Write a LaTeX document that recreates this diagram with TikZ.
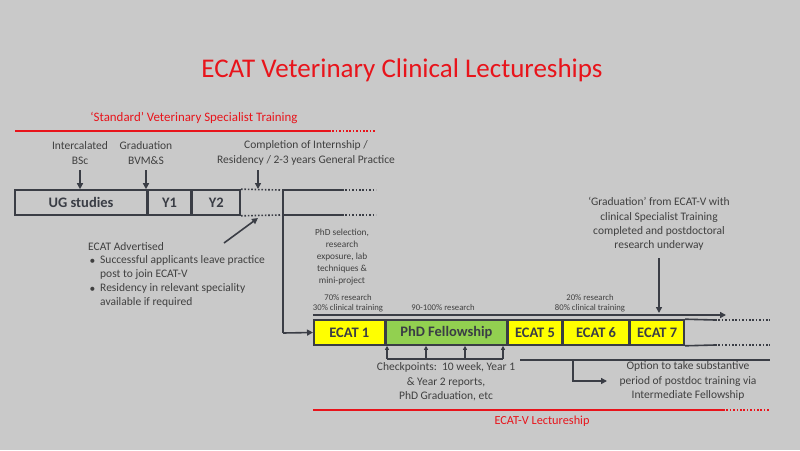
\documentclass[tikz,border=0pt]{standalone}
\usepackage{fontspec}
\setmainfont{Carlito}
\usetikzlibrary{arrows.meta}
\definecolor{bg}{HTML}{C9C9C9}
\definecolor{ln}{HTML}{3A3D45}
\definecolor{tx}{HTML}{404040}
\definecolor{rd}{HTML}{E8141B}
\definecolor{yl}{HTML}{FFFF00}
\definecolor{gr}{HTML}{92D050}
\tikzset{
  lbl/.style={text=tx,font=\fontsize{11.5}{14.3}\selectfont,align=center,inner sep=0pt},
  sml/.style={text=tx,font=\fontsize{9.3}{12.2}\selectfont,align=center,inner sep=0pt},
  pct/.style={text=tx,font=\fontsize{8.7}{10.3}\selectfont,align=center,inner sep=0pt},
  boxt/.style={draw=ln,line width=1.6pt,minimum height=25pt,inner sep=0pt,text=ln,font=\fontsize{14.5}{16}\selectfont\bfseries},
  ecat/.style={boxt,fill=yl},
  ln/.style={draw=ln,line width=1.6pt},
  dots/.style={draw=ln,line width=1.6pt,dash pattern=on 1.6pt off 1.8pt},
  rline/.style={draw=rd,line width=1.6pt},
  rdots/.style={draw=rd,line width=1.6pt,dash pattern=on 1.6pt off 1.8pt},
  arr/.style={ln,-{Triangle[length=6pt,width=6pt]}},
  sarr/.style={draw=ln,line width=1.2pt,-{Triangle[length=4pt,width=4pt]}},
}
\begin{document}
\begin{tikzpicture}[x=1pt,y=-1pt]
\fill[bg] (0,0) rectangle (800,450);
\useasboundingbox (0,0) rectangle (800,450);
% title
\node[text=rd,font=\fontsize{27}{30}\selectfont,inner sep=0pt] (title) at (402,70) {ECAT Veterinary Clinical Lectureships};
% standard training
\node[text=rd,font=\fontsize{12.9}{15}\selectfont,inner sep=0pt] (std) at (194,118) {‘Standard’ Veterinary Specialist Training};
\coordinate (r1a) at (15,131); \coordinate (r1b) at (329,131); \coordinate (r1c) at (376,131);
\draw[rline] (r1a) -- (r1b);
\draw[rdots] (r1b) -- (r1c);
% labels
\node[lbl] (ib) at (80,153) {Intercalated\\BSc};
\node[lbl] (gb) at (146,153) {Graduation\\BVM\&S};
\node[lbl] (ci) at (306,153) {Completion of Internship /\\Residency / 2-3 years General Practice};
% UG boxes
\node[boxt,minimum width=132pt] (ug) at (81,202.5) {UG studies};
\node[boxt,minimum width=42pt,anchor=west] (y1) at (ug.east) {Y1};
\node[boxt,minimum width=48pt,anchor=west] (y2) at (y1.east) {Y2};
\coordinate (a1) at (80,170); \coordinate (a2) at (146,170); \coordinate (a3) at (258,170);
\draw[arr] (a1) -- (ug.north -| a1);
\draw[arr] (a2) -- (ug.north -| a2);
\draw[arr] (a3) -- (258,189);
% dotted continuation
\coordinate (d1) at (280,190); \coordinate (d2) at (280,215);
\draw[dots] (y2.north east) -- (d1);
\draw[dots] (y2.south east) -- (d2);
% vertical branch
\coordinate (v0) at (283,190); \coordinate (v1) at (283,333);
\coordinate (h1) at (342,190); \coordinate (h2) at (342,215);
\coordinate (h1e) at (376,190); \coordinate (h2e) at (376,215);
\draw[ln] (h1) -- (v0) -- (v1);
\draw[ln] (283,215) -- (h2);
\draw[dots] (h1) -- (h1e);
\draw[dots] (h2) -- (h2e);
% ECAT advertised
\coordinate (ea0) at (224,243); \coordinate (ea1) at (258,218);
\draw[arr] (ea0) -- (ea1);
\node[lbl,align=left,anchor=west] (adv) at (88,247) {ECAT Advertised};
\node[lbl,anchor=center] (b1) at (92.5,262) {•};
\node[lbl,anchor=center] (b2) at (92.5,290) {•};
\node[lbl,align=left,anchor=north west] (bt1) at (100,255) {Successful applicants leave practice\\post to join ECAT-V};
\node[lbl,align=left,anchor=north west] (bt2) at (100,283) {Residency in relevant speciality\\available if required};
% PhD selection
\node[sml] (sel) at (342,257) {PhD selection,\\research\\exposure, lab\\techniques \&\\mini-project};
% percentages
\node[pct] (p1) at (348,303) {70\% research\\30\% clinical training};
\node[pct] (p2) at (443,308) {90-100\% research};
\node[pct] (p3) at (590,303) {20\% research\\80\% clinical training};
% ECAT row
\node[ecat,minimum width=71pt,anchor=west] (e1) at (313,332.5) {ECAT 1};
\node[boxt,fill=gr,minimum width=120pt,anchor=west] (phd) at (e1.east) {PhD Fellowship};
\node[ecat,minimum width=54pt,anchor=west] (e5) at (phd.east) {ECAT 5};
\node[ecat,minimum width=65pt,anchor=west] (e6) at (e5.east) {ECAT 6};
\node[ecat,minimum width=54pt,anchor=west] (e7) at (e6.east) {ECAT 7};
\draw[arr] (v1) -- (e1.west);
% timeline arrow
\coordinate (t0) at (313,315); \coordinate (t1) at (726,315);
\draw[arr] (t0) -- (t1);
% continuation after ECAT 7
\coordinate (c1) at (715,320); \coordinate (c2) at (715,345);
\coordinate (c1e) at (770,320); \coordinate (c2e) at (770,345);
\draw[ln] (e7.north east) -- (c1);
\draw[ln] (e7.south east) -- (c2);
\draw[dots] (c1) -- (c1e);
\draw[dots] (c2) -- (c2e);
% graduation
\node[lbl] (grad) at (659,224) {‘Graduation’ from ECAT-V with\\clinical Specialist Training\\completed and postdoctoral\\research underway};
\coordinate (g0) at (659,258);
\draw[arr] (g0) -- (659,313);
% checkpoints
\coordinate (k1) at (387,359); \coordinate (k2) at (426,359);
\coordinate (k3) at (465,359); \coordinate (k4) at (503,359);
\draw[draw=ln,line width=1.2pt] (k1) -- (k4);
\foreach \k in {k1,k2,k3,k4} \draw[sarr] (\k) -- (\k |- phd.south);
\node[lbl] (chk) at (446,382) {Checkpoints:\ \ 10 week, Year 1\\\& Year 2 reports,\\PhD Graduation, etc};
% option
\coordinate (o0) at (520,360); \coordinate (o1) at (770,360);
\coordinate (o2) at (573,360); \coordinate (o3) at (573,381);
\draw[ln] (o0) -- (o1);
\node[lbl] (opt) at (688,381) {Option to take substantive\\period of postdoc training via\\Intermediate Fellowship};
\draw[arr] (o2) -- (o3) -- (607,381);
% bottom red line
\coordinate (r2a) at (313,410); \coordinate (r2b) at (723,410); \coordinate (r2c) at (770,410);
\draw[rline] (r2a) -- (r2b);
\draw[rdots] (r2b) -- (r2c);
\node[text=rd,font=\fontsize{12.3}{14}\selectfont,inner sep=0pt] (lect) at (542,421) {ECAT-V Lectureship};
\end{tikzpicture}
\end{document}
